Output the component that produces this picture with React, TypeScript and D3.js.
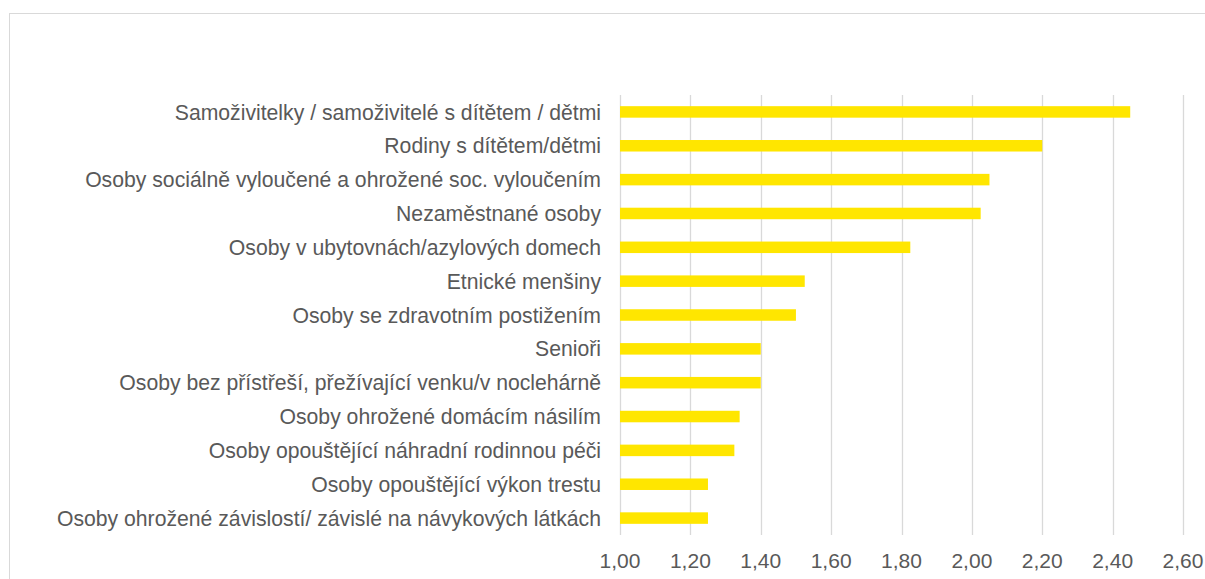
import React from "react";
import * as d3 from "d3";

const categories: string[] = [
  "Samoživitelky / samoživitelé s dítětem / dětmi",
  "Rodiny s dítětem/dětmi",
  "Osoby sociálně vyloučené a ohrožené soc. vyloučením",
  "Nezaměstnané osoby",
  "Osoby v ubytovnách/azylových domech",
  "Etnické menšiny",
  "Osoby se zdravotním postižením",
  "Senioři",
  "Osoby bez přístřeší, přežívající venku/v noclehárně",
  "Osoby ohrožené domácím násilím",
  "Osoby opouštějící náhradní rodinnou péči",
  "Osoby opouštějící výkon trestu",
  "Osoby ohrožené závislostí/ závislé na návykových látkách",
];

const values: number[] = [2.45, 2.2, 2.05, 2.025, 1.825, 1.525, 1.5, 1.4, 1.4, 1.34, 1.325, 1.25, 1.25];

const ticks: number[] = [1.0, 1.2, 1.4, 1.6, 1.8, 2.0, 2.2, 2.4, 2.6];

const W = 1205;
const H = 579;
const FONT = "'Liberation Sans', Arial, sans-serif";
const TEXT = "#595959";

export default function App() {
  const x = d3.scaleLinear().domain([1.0, 2.6]).range([620, 1183]);
  const y = d3
    .scaleBand<string>()
    .domain(categories)
    .range([95, 535])
    .paddingInner(0.66)
    .paddingOuter(0.33);
  const fmt = (v: number) => d3.format(".2f")(v).replace(".", ",");
  const [y0, y1] = y.range();

  return (
    <svg
      width={W}
      height={H}
      style={{ position: "absolute", left: 0, top: 0, background: "#fff" }}
    >
      <rect x={9.5} y={13.5} width={W + 10} height={H + 10} fill="#fff" stroke="#d9d9d9" strokeWidth={1} />
      {ticks.map((t) => (
        <line
          key={"g" + t}
          x1={Math.round(x(t)) + 0.5}
          x2={Math.round(x(t)) + 0.5}
          y1={y0}
          y2={y1}
          stroke="#d9d9d9"
          strokeWidth={1.3}
        />
      ))}
      {categories.map((c, i) => (
        <rect
          key={"b" + i}
          x={x(1.0)}
          y={y(c)!}
          width={x(values[i]) - x(1.0)}
          height={y.bandwidth()}
          fill="#FFE600"
        />
      ))}
      {categories.map((c) => (
        <text
          key={"l" + c}
          x={601}
          y={y(c)! + y.bandwidth() / 2}
          dy="0.36em"
          textAnchor="end"
          fontFamily={FONT}
          fontSize={21.2}
          fill={TEXT}
        >
          {c}
        </text>
      ))}
      {ticks.map((t) => (
        <text
          key={"t" + t}
          x={x(t)}
          y={568}
          textAnchor="middle"
          fontFamily={FONT}
          fontSize={21}
          fill={TEXT}
        >
          {fmt(t)}
        </text>
      ))}
    </svg>
  );
}
